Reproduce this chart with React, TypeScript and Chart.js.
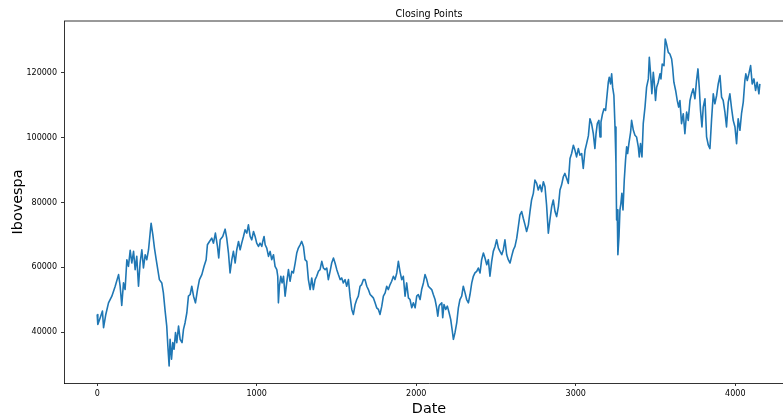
import { useEffect, useRef } from "react";
import { Chart, registerables } from "chart.js";

Chart.register(...registerables);

// Trading-day index (0 = first session) of each sampled close
const closeIndex = [
  0, 4, 19, 33, 40, 54, 71, 92, 113, 134, 144, 154, 165, 175, 186, 196, 207, 217, 228, 238,
  248, 259, 269, 280, 290, 301, 311, 322, 332, 338, 349, 359, 370, 380, 390, 405, 415, 426, 436, 443,
  451, 457, 466, 474, 482, 491, 499, 510, 520, 532, 541, 551, 562, 572, 583, 593, 604, 616, 629, 641,
  656, 670, 683, 691, 704, 718, 729, 741, 754, 762, 771, 787, 802, 812, 823, 833, 844, 854, 865, 875,
  886, 896, 906, 917, 927, 938, 948, 959, 969, 980, 990, 1000, 1011,
  1021, 1032, 1038, 1046, 1053, 1063, 1074, 1084, 1094, 1105, 1115, 1126, 1132, 1136, 1142, 1151, 1159, 1168, 1178, 1188,
  1199, 1209, 1220, 1230, 1241, 1251, 1261, 1272, 1282, 1293, 1303, 1314, 1324, 1335, 1345, 1355, 1366, 1376, 1387, 1397,
  1408, 1418, 1429, 1439, 1449, 1460, 1470, 1481, 1491, 1502, 1512, 1523, 1533, 1543, 1554, 1564, 1575, 1585, 1596, 1606,
  1617, 1627, 1637, 1648, 1658, 1669, 1679, 1690, 1700, 1711, 1721, 1731, 1742, 1752, 1763, 1773, 1784, 1794, 1805, 1815,
  1825, 1836, 1846, 1857, 1867, 1878, 1888, 1898, 1909, 1919, 1930, 1940, 1951, 1961, 1972, 1982, 1993, 2003, 2013, 2024,
  2034, 2045, 2055, 2066, 2076, 2086, 2097, 2107, 2118, 2128, 2135, 2143, 2149,
  2160, 2166, 2174, 2185, 2195, 2206, 2216, 2226, 2233, 2243, 2254, 2264, 2274, 2285, 2295, 2306, 2316, 2327, 2337, 2348,
  2358, 2368, 2379, 2389, 2400, 2410, 2421, 2431, 2442, 2452, 2462, 2473, 2483, 2494, 2504, 2515, 2525, 2536, 2546, 2556,
  2567, 2577, 2588, 2598, 2609, 2619, 2630, 2640, 2650, 2661, 2671, 2682, 2692, 2703, 2713, 2723, 2734, 2744, 2755, 2765,
  2776, 2786, 2797, 2807, 2817, 2828, 2838, 2849, 2859, 2870, 2880, 2891, 2901, 2911, 2922, 2932, 2943, 2953, 2964, 2974,
  2985, 2995, 3005, 3016, 3026, 3037, 3047, 3058, 3068, 3079,
  3089, 3099, 3110, 3120, 3127, 3135, 3145, 3152, 3158, 3168, 3177, 3187, 3193, 3204, 3210, 3218, 3225, 3231, 3239, 3246,
  3252, 3256, 3260, 3264, 3271, 3277, 3283, 3289, 3296, 3304, 3312, 3319, 3325, 3333, 3344, 3350, 3361, 3371, 3381, 3392,
  3398, 3406, 3415, 3423, 3434, 3444, 3455, 3461, 3469, 3477, 3486, 3492, 3500, 3507, 3517, 3528, 3534, 3542, 3553, 3561,
  3569, 3580, 3590, 3601, 3607, 3615, 3626, 3636, 3645, 3653, 3663, 3674, 3684, 3695, 3705, 3716, 3726, 3736, 3747, 3757,
  3766, 3774, 3782, 3791, 3799, 3810, 3820, 3831, 3841, 3851, 3862, 3872, 3883, 3893, 3904, 3914, 3924, 3935, 3945, 3956,
  3966, 3977, 3987, 3998, 4008, 4018, 4029, 4039, 4050, 4060, 4066, 4075, 4085, 4096, 4106, 4117, 4127, 4137, 4148, 4154,
];

// Ibovespa closing points at those sessions
const closeValue = [
  45500, 42450, 44500, 46540, 41430, 45500, 49090, 51140, 54200, 57780, 54200, 48280, 55220, 53180, 62370, 60330, 65235, 61350, 64930, 59310,
  63400, 54200, 61350, 65440, 59820, 63910, 62370, 65440, 70550, 73610, 70040, 65950, 62370, 59310, 56240, 55220, 52160, 46540, 41940, 35810,
  29680, 37850, 31720, 36830, 34790, 39900, 36830, 41940, 37850, 36830, 40920, 42960, 46030, 51140, 51650, 54200, 51140, 49090, 53180, 56240,
  57780, 60330, 62370, 66970, 67990, 69015, 67480, 70550, 66460, 62885, 68500, 69525, 71775, 69015, 64420, 58290, 62370, 64930, 61350, 65440,
  67990, 65440, 67480, 69525, 71570, 70550, 73100, 69525, 68500, 71060, 69525, 67480, 66460,
  67480, 66460, 67990, 69525, 66970, 65950, 63400, 64930, 62370, 63910, 60330, 59310, 57270, 49090, 54200, 57270, 55220, 57270, 51140, 55220,
  59310, 55730, 58800, 58290, 61350, 64420, 65950, 66970, 67990, 66460, 62370, 61860, 56240, 53180, 56750, 53180, 56240, 57270, 58800, 59310,
  61860, 59820, 59310, 59820, 56240, 58800, 61350, 62885, 61350, 59310, 57780, 56240, 56750, 55220, 56240, 54200, 56240, 51140, 47050, 45520,
  48580, 50110, 51140, 54200, 54710, 56240, 56240, 54200, 53180, 51650, 51140, 50625, 49090, 47560, 47050, 45520, 48070, 51140, 52160, 54200,
  53180, 54710, 55730, 57270, 56240, 58290, 61860, 58800, 56240, 57270, 51140, 55220, 50625, 50110, 47560, 49090, 47560, 51140, 51650, 50110,
  53180, 55220, 57780, 56240, 54200, 53690, 53180, 51650, 50110, 47560, 45005, 48070, 48580,
  49090, 44495, 48580, 47050, 48070, 46030, 43985, 40410, 37850, 39900, 42960, 47560, 50110, 51135, 54200, 52160, 50110, 49090, 51650, 55220,
  57265, 58290, 58800, 59820, 58290, 62375, 64420, 62885, 60840, 62375, 57265, 61865, 64930, 66460, 68505, 65950, 64930, 63905, 65440, 68505,
  63905, 62375, 61350, 63395, 65440, 66460, 69015, 72590, 76165, 77190, 75145, 73100, 71060, 73100, 77190, 80765, 82810, 86895, 85875, 83830,
  85360, 83320, 86385, 84850, 79230, 70545, 74635, 78720, 80765, 77190, 75655, 78720, 83830, 85360, 87915, 88940, 87405, 85875, 93535, 95070,
  97620, 96090, 94045, 96600, 94560, 95070, 90470, 96090, 98135, 100500,
  105795, 104260, 101195, 96600, 101195, 104260, 105285, 100175, 104775, 107330, 108860, 108350, 111415, 117035, 118565, 116520, 119590, 115500, 112945, 103240,
  92000, 74630, 77700, 63905, 69525, 77700, 79740, 82805, 77700, 86895, 93025, 97110, 95065, 98130, 101710, 105285, 102220, 100685, 100175, 97110,
  94045, 98130, 94045, 104260, 109370, 115500, 118055, 124695, 119590, 113460, 120100, 117035, 111415, 115500, 117035, 119590, 118055, 122650, 122140, 130315,
  128785, 126230, 125720, 124185, 121630, 117035, 114480, 111415, 109370, 111415, 104260, 107330, 101195, 107840, 105285, 111415, 113460, 114990, 111925, 117545,
  121120, 115500, 108350, 103240, 109370, 111925, 100175, 97620, 96600, 105285, 113460, 110390, 112945, 116520, 119075, 112435, 111415, 107840, 103240, 110905,
  113460, 108860, 105285, 103240, 98130, 105795, 102220, 107330, 110905, 117545, 119590, 117545, 119590, 122140, 116520, 118055, 114480, 117035, 113460, 116520,
];

const xTickValues = [0, 1000, 2000, 3000, 4000];
const yTickValues = [40000, 60000, 80000, 100000, 120000];

const titleText = "Closing Points";
const xLabel = "Date";
const yLabel = "Ibovespa";

const FONT = '"DejaVu Sans", sans-serif';
const LINE_COLOR = "#1f77b4";

// Draws the top/right frame lines, the title and both axis labels.
const framePlugin = {
  id: "frame",
  afterDraw(chart: any) {
    const { ctx, chartArea: a } = chart;
    ctx.save();
    ctx.strokeStyle = "#000";
    ctx.lineWidth = 0.8;
    ctx.beginPath();
    ctx.moveTo(a.left, a.top);
    ctx.lineTo(a.right, a.top);
    ctx.lineTo(a.right, a.bottom);
    ctx.stroke();

    ctx.fillStyle = "#000";
    ctx.textAlign = "center";
    ctx.textBaseline = "alphabetic";
    const cx = (a.left + a.right) / 2;

    ctx.font = `9.6px ${FONT}`;
    ctx.fillText(titleText, cx, a.top - 4.5);

    ctx.font = `14.4px ${FONT}`;
    ctx.fillText(xLabel, cx, a.bottom + 29.5);

    ctx.translate(21.5, (a.top + a.bottom) / 2);
    ctx.rotate(-Math.PI / 2);
    ctx.fillText(yLabel, 0, 0);
    ctx.restore();
  },
};

export default function App() {
  const canvasRef = useRef<HTMLCanvasElement | null>(null);

  useEffect(() => {
    const canvas = canvasRef.current;
    if (!canvas) return;

    const points = closeIndex.map((x, i) => ({ x, y: closeValue[i] }));

    const tickFont = { family: FONT, size: 8 };
    const grid = {
      display: true,
      drawOnChartArea: false,
      drawTicks: true,
      tickLength: 3,
      tickWidth: 0.8,
      tickColor: "#000",
    };
    const border = { display: true, color: "#000", width: 0.8 };

    const chart = new Chart(canvas, {
      type: "line",
      data: {
        datasets: [
          {
            data: points,
            borderColor: LINE_COLOR,
            backgroundColor: LINE_COLOR,
            borderWidth: 1.6,
            borderJoinStyle: "round",
            pointRadius: 0,
            tension: 0,
            fill: false,
          },
        ],
      },
      options: {
        animation: false,
        responsive: false,
        maintainAspectRatio: false,
        layout: { padding: { top: 21, right: 6, left: 0, bottom: 0 } },
        plugins: {
          legend: { display: false },
          tooltip: { enabled: false },
          title: { display: false },
        },
        scales: {
          x: {
            type: "linear",
            min: -208,
            max: 4368,
            afterBuildTicks: (s: any) => {
              s.ticks = xTickValues.map((value) => ({ value }));
            },
            afterFit: (s: any) => {
              s.height = 33;
            },
            ticks: {
              font: tickFont,
              color: "#000",
              padding: 3,
              autoSkip: false,
              maxRotation: 0,
              callback: (v: any) => String(v),
            },
            grid,
            border,
          },
          y: {
            type: "linear",
            min: 24400,
            max: 135880,
            afterBuildTicks: (s: any) => {
              s.ticks = yTickValues.map((value) => ({ value }));
            },
            afterFit: (s: any) => {
              s.width = 64;
            },
            ticks: {
              font: tickFont,
              color: "#000",
              padding: 4,
              autoSkip: false,
              callback: (v: any) => String(v),
            },
            grid,
            border,
          },
        },
      },
      plugins: [framePlugin],
    } as any);

    return () => chart.destroy();
  }, []);

  return (
    <div
      style={{
        position: "absolute",
        left: 0,
        top: 0,
        width: 783,
        height: 416,
        overflow: "hidden",
        background: "#fff",
      }}
    >
      <canvas ref={canvasRef} width={800} height={416} style={{ width: 800, height: 416 }} />
    </div>
  );
}
